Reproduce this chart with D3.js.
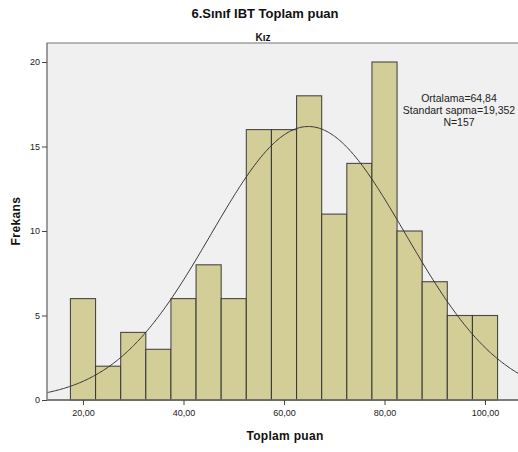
<!DOCTYPE html>
<html>
<head>
<meta charset="utf-8">
<script src="https://cdn.jsdelivr.net/npm/d3@7"></script>
<style>
  html, body { margin: 0; padding: 0; background: #fff; }
  svg { display: block; font-family: "Liberation Sans", Arial, sans-serif; }
</style>
</head>
<body>
<svg id="chart" width="518" height="452"></svg>
<script>
// Histogram bins (width 5) and frequencies
const binStarts = [17.5, 22.5, 27.5, 32.5, 37.5, 42.5, 47.5, 52.5, 57.5, 62.5, 67.5, 72.5, 77.5, 82.5, 87.5, 92.5, 97.5];
const counts    = [6, 2, 4, 3, 6, 8, 6, 16, 16, 18, 11, 14, 20, 10, 7, 5, 5];
const binWidth = 5;
const xTicks = [20, 40, 60, 80, 100];
const yTicks = [0, 5, 10, 15, 20];
const mean = 64.84, sd = 19.352, n = 157;

const svg = d3.select("#chart");
const plot = { left: 47, top: 43, right: 520, bottom: 400 };

const x = d3.scaleLinear().domain([20, 100]).range([83, 485]);
const y = d3.scaleLinear().domain([0, 20]).range([400, 62]);

// plot background
svg.append("rect")
  .attr("x", plot.left).attr("y", plot.top)
  .attr("width", plot.right - plot.left).attr("height", plot.bottom - plot.top)
  .attr("fill", "#f0f0f0").attr("stroke", "#8a8a8a").attr("stroke-width", 1.2);

// bars
svg.append("g").selectAll("rect")
  .data(binStarts.map((s, i) => ({ s, c: counts[i] })))
  .join("rect")
  .attr("x", d => x(d.s))
  .attr("y", d => y(d.c))
  .attr("width", d => x(d.s + binWidth) - x(d.s))
  .attr("height", d => y(0) - y(d.c))
  .attr("fill", "#d3ce97")
  .attr("stroke", "#2e2e2e")
  .attr("stroke-opacity", 0.85)
  .attr("stroke-width", 1.1);

// normal curve scaled to counts
const xmin = x.invert(plot.left), xmax = x.invert(plot.right);
const pts = d3.range(xmin, xmax, 0.25).concat([xmax]).map(v => [v,
  n * binWidth / (sd * Math.sqrt(2 * Math.PI)) * Math.exp(-0.5 * ((v - mean) / sd) ** 2)]);
svg.append("path")
  .attr("d", d3.line().x(d => x(d[0])).y(d => y(d[1])).curve(d3.curveBasis)(pts))
  .attr("fill", "none").attr("stroke", "#333").attr("stroke-width", 1);

// axes
const xAxis = svg.append("g").attr("transform", `translate(0,${plot.bottom})`)
  .call(d3.axisBottom(x).tickValues(xTicks).tickSize(5).tickSizeOuter(0)
    .tickFormat(d => d.toFixed(2).replace(".", ",")));
xAxis.select(".domain").attr("d", `M${plot.left},0H${plot.right}`).attr("stroke", "#6a6a6a").attr("stroke-width", 1.5);
xAxis.selectAll(".tick line").attr("stroke", "#444");
xAxis.selectAll("text").attr("font-size", 9).attr("fill", "#222").attr("dy", "0.9em");

const yAxis = svg.append("g").attr("transform", `translate(${plot.left},0)`)
  .call(d3.axisLeft(y).tickValues(yTicks).tickSize(5).tickSizeOuter(0).tickPadding(2));
yAxis.select(".domain").attr("d", `M0,${plot.top}V${plot.bottom}`).attr("stroke", "#8a8a8a").attr("stroke-width", 1.2);
yAxis.selectAll(".tick line").attr("stroke", "#444");
yAxis.selectAll("text").attr("font-size", 9).attr("fill", "#222");

// titles
svg.append("text").attr("x", 265).attr("y", 18).attr("text-anchor", "middle")
  .attr("font-size", 13).attr("font-weight", "bold").attr("fill", "#111").text("6.Sınıf IBT Toplam puan");
svg.append("text").attr("x", 263).attr("y", 41).attr("text-anchor", "middle")
  .attr("font-size", 10).attr("font-weight", "bold").attr("fill", "#111").text("Kız");
svg.append("text").attr("x", 285).attr("y", 440).attr("text-anchor", "middle")
  .attr("font-size", 12).attr("font-weight", "bold").attr("fill", "#111").attr("letter-spacing", 0.3).text("Toplam puan");
svg.append("text").attr("transform", "translate(20,221) rotate(-90)").attr("text-anchor", "middle")
  .attr("font-size", 12).attr("font-weight", "bold").attr("fill", "#111").attr("letter-spacing", 0.4).text("Frekans");

// summary statistics
const stats = svg.append("text").attr("text-anchor", "middle").attr("font-size", 10.5).attr("fill", "#222");
[`Ortalama=${mean.toFixed(2).replace(".", ",")}`, `Standart sapma=${sd.toFixed(3).replace(".", ",")}`, `N=${n}`]
  .forEach((t, i) => stats.append("tspan").attr("x", 459).attr("y", 102 + i * 12).text(t));
</script>
</body>
</html>
